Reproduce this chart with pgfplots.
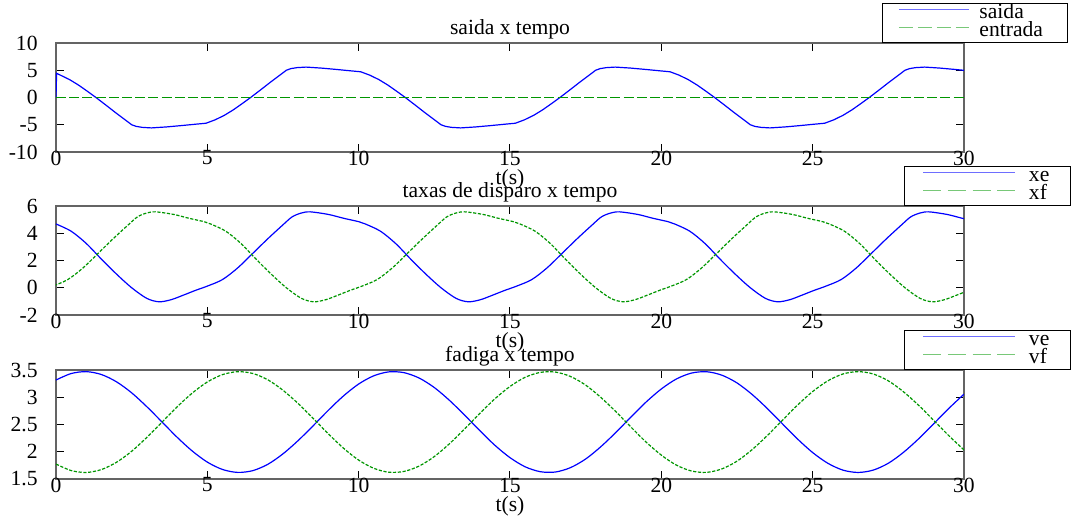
\documentclass[border=0pt]{standalone}
\usepackage{pgfplots}
\pgfplotsset{compat=1.18}
\usepackage{fontspec}
\setmainfont{Liberation Serif}

\definecolor{lineblue}{RGB}{0,0,255}
\definecolor{linegreen}{RGB}{0,150,0}
\definecolor{legblue}{RGB}{110,110,255}
\definecolor{leggreen}{RGB}{120,200,120}
\definecolor{framegray}{RGB}{100,100,100}

\pgfplotsset{
  panel/.style={
    scale only axis, width=454pt, height=54.5pt,
    xmin=0, xmax=30, xtick={0,5,...,30},
    axis line style={draw=framegray, line width=0.75pt},
    tick style={black, line width=0.5pt},
    major tick length=4pt, tick align=inside, tick pos=both,
    xticklabel pos=bottom, yticklabel pos=left,
    /pgf/number format/assume math mode=true,
    yticklabel style={anchor=east, inner sep=0pt, xshift=-9pt},
    xticklabel style={anchor=north, inner sep=0pt, yshift=0.8pt},
    title style={at={(axis description cs:0.5,1)}, anchor=base, inner sep=0pt, yshift=-1.6pt},
    xlabel style={at={(axis description cs:0.5,0)}, anchor=north, inner sep=0pt, yshift=-8.6pt},
    xlabel={t(s)},
    legend cell align=left,
    every axis plot/.append style={line width=0.6pt},
  },
  solidline/.style={draw=lineblue, legend image post style={draw=legblue}},
  shortdash/.style={draw=linegreen, dash pattern=on 1.6pt off 0.8pt,
    legend image post style={draw=leggreen, dash pattern=on 9pt off 3.3pt}},
}

\begin{document}
\fontsize{10.8}{12.5}\selectfont
\begin{tikzpicture}
\path (0pt,0pt) (539pt,-259pt);

% ---------- firing rates vs time ----------
\begin{axis}[panel, at={(28pt,-157.5pt)}, anchor=south west,
  ymin=-2, ymax=6, ytick={-2,0,2,4,6},
  title={taxas de disparo x tempo},
  legend style={at={(axis description cs:1.1184,1)}, anchor=south east,
    draw=black, line width=0.5pt, inner xsep=0pt, inner ysep=0.75pt,
    row sep=0pt, column sep=6.5pt,
    nodes={inner sep=0pt, text height=6.6pt, text depth=2.4pt, text width=21pt, align=left}},
  legend image code/.code={\path (0pt,0pt) (55pt,0pt);
    \draw[#1, line width=0.6pt] (9pt,2.1pt) -- (55pt,2.1pt);},
]
\addplot[solidline, smooth] coordinates {
(0,4.68) (0.5,4.15) (1,3.25) (1.5,2.1) (2,1.0) (2.5,0.0) (3,-0.78) (3.4,-1.03) (3.8,-0.88) (4.2,-0.55) (4.6,-0.2) (5,0.12) (5.5,0.6) (6,1.45) (6.5,2.52) (7,3.6) (7.5,4.62) (7.8,5.2) (8.1,5.48) (8.4,5.57) (9,5.38) (9.5,5.1) (10,4.85)
(10.22,4.68) (10.72,4.15) (11.22,3.25) (11.72,2.1) (12.22,1.0) (12.72,0.0) (13.22,-0.78) (13.62,-1.03) (14.02,-0.88) (14.42,-0.55) (14.82,-0.2) (15.22,0.12) (15.72,0.6) (16.22,1.45) (16.72,2.52) (17.22,3.6) (17.72,4.62) (18.02,5.2) (18.32,5.48) (18.62,5.57) (19.22,5.38) (19.72,5.1) (20.22,4.85)
(20.44,4.68) (20.94,4.15) (21.44,3.25) (21.94,2.1) (22.44,1.0) (22.94,0.0) (23.44,-0.78) (23.84,-1.03) (24.24,-0.88) (24.64,-0.55) (25.04,-0.2) (25.44,0.12) (25.94,0.6) (26.44,1.45) (26.94,2.52) (27.44,3.6) (27.94,4.62) (28.24,5.2) (28.54,5.48) (28.84,5.57) (29.44,5.38) (29.94,5.1) (30.44,4.85)
};
\addlegendentry{xe}
\addplot[shortdash, smooth] coordinates {
(-0.51,-0.2) (-0.11,0.12) (0.39,0.6) (0.89,1.45) (1.39,2.52) (1.89,3.6) (2.39,4.62) (2.69,5.2) (2.99,5.48) (3.29,5.57) (3.89,5.38) (4.39,5.1) (4.89,4.85)
(5.11,4.68) (5.61,4.15) (6.11,3.25) (6.61,2.1) (7.11,1.0) (7.61,0.0) (8.11,-0.78) (8.51,-1.03) (8.91,-0.88) (9.31,-0.55) (9.71,-0.2) (10.11,0.12) (10.61,0.6) (11.11,1.45) (11.61,2.52) (12.11,3.6) (12.61,4.62) (12.91,5.2) (13.21,5.48) (13.51,5.57) (14.11,5.38) (14.61,5.1) (15.11,4.85)
(15.33,4.68) (15.83,4.15) (16.33,3.25) (16.83,2.1) (17.33,1.0) (17.83,0.0) (18.33,-0.78) (18.73,-1.03) (19.13,-0.88) (19.53,-0.55) (19.93,-0.2) (20.33,0.12) (20.83,0.6) (21.33,1.45) (21.83,2.52) (22.33,3.6) (22.83,4.62) (23.13,5.2) (23.43,5.48) (23.73,5.57) (24.33,5.38) (24.83,5.1) (25.33,4.85)
(25.55,4.68) (26.05,4.15) (26.55,3.25) (27.05,2.1) (27.55,1.0) (28.05,0.0) (28.55,-0.78) (28.95,-1.03) (29.35,-0.88) (29.75,-0.55) (30.15,-0.2)
};
\addlegendentry{xf}
\end{axis}

% ---------- fatigue vs time ----------
\begin{axis}[panel, at={(28pt,-239.5pt)}, anchor=south west,
  ymin=1.5, ymax=3.5, ytick={1.5,2,2.5,3,3.5},
  title={fadiga x tempo},
  legend style={at={(axis description cs:1.1184,1)}, anchor=south east,
    draw=black, line width=0.5pt, inner xsep=0pt, inner ysep=0.75pt,
    row sep=0pt, column sep=6.5pt,
    nodes={inner sep=0pt, text height=6.6pt, text depth=2.4pt, text width=21pt, align=left}},
  legend image code/.code={\path (0pt,0pt) (55pt,0pt);
    \draw[#1, line width=0.6pt] (9pt,2.1pt) -- (55pt,2.1pt);},
]
\addplot[solidline, smooth] table {
t ve
0 3.316
0.5 3.435
1 3.470
1.5 3.417
2 3.283
2.5 3.081
3 2.827
3.5 2.548
4 2.267
4.5 2.014
5 1.810
5.5 1.675
6 1.621
6.5 1.653
7 1.770
7.5 1.962
8 2.205
8.5 2.479
9 2.762
9.5 3.025
10 3.243
10.5 3.394
11 3.466
11.5 3.451
12 3.352
12.5 3.178
13 2.943
13.5 2.672
14 2.389
14.5 2.119
15 1.892
15.5 1.724
16 1.634
16.5 1.628
17 1.709
17.5 1.867
18 2.092
18.5 2.356
19 2.639
19.5 2.914
20 3.152
20.5 3.336
21 3.444
21.5 3.468
22 3.405
22.5 3.263
23 3.051
23.5 2.794
24 2.513
24.5 2.234
25 1.985
25.5 1.789
26 1.663
26.5 1.620
27 1.663
27.5 1.789
28 1.989
28.5 2.237
29 2.515
29.5 2.796
30 3.057
};
\addlegendentry{ve}
\addplot[shortdash, smooth] table {
t vf
0 1.774
0.5 1.655
1 1.620
1.5 1.673
2 1.807
2.5 2.009
3 2.263
3.5 2.542
4 2.823
4.5 3.076
5 3.280
5.5 3.415
6 3.469
6.5 3.437
7 3.320
7.5 3.128
8 2.885
8.5 2.611
9 2.328
9.5 2.065
10 1.847
10.5 1.696
11 1.624
11.5 1.639
12 1.738
12.5 1.912
13 2.147
13.5 2.418
14 2.701
14.5 2.971
15 3.198
15.5 3.366
16 3.456
16.5 3.462
17 3.381
17.5 3.223
18 2.998
18.5 2.734
19 2.451
19.5 2.176
20 1.938
20.5 1.754
21 1.646
21.5 1.622
22 1.685
22.5 1.827
23 2.039
23.5 2.296
24 2.577
24.5 2.856
25 3.105
25.5 3.301
26 3.427
26.5 3.470
27 3.427
27.5 3.301
28 3.101
28.5 2.853
29 2.575
29.5 2.294
30 2.033
};
\addlegendentry{vf}
\end{axis}

% ---------- output vs time ----------
\begin{axis}[panel, at={(28pt,-76pt)}, anchor=south west,
  ymin=-10, ymax=10, ytick={-10,-5,0,5,10},
  title={saida x tempo},
  legend style={at={(axis description cs:1.1145,1)}, anchor=south east,
    draw=black, line width=0.5pt, inner xsep=0pt, inner ysep=0.75pt,
    row sep=0pt, column sep=5pt,
    nodes={inner sep=0pt, text height=6.6pt, text depth=2.4pt, text width=44pt, align=left}},
  legend image code/.code={\path (0pt,0pt) (43pt,0pt);
    \draw[#1, line width=0.6pt] (8pt,2.1pt) -- (43pt,2.1pt);},
]
\addplot[solidline] coordinates {
(0,0) (0.02,4.44) (0.15,4.09) (0.45,3.28) (0.75,2.26) (1.05,1.09) (1.32,0) (1.65,-1.4) (1.95,-2.7) (2.25,-3.95) (2.5,-5.0) (2.65,-5.3) (2.85,-5.48) (3.15,-5.58) (3.65,-5.4) (4.15,-5.15) (4.65,-4.88)
(4.96,-4.72) (5.26,-4.09) (5.56,-3.28) (5.86,-2.26) (6.16,-1.09) (6.43,0) (6.76,1.4) (7.06,2.7) (7.36,3.95) (7.61,5.0) (7.76,5.3) (7.96,5.48) (8.26,5.58) (8.76,5.4) (9.26,5.15) (9.76,4.88)
(10.07,4.72) (10.37,4.09) (10.67,3.28) (10.97,2.26) (11.27,1.09) (11.54,0) (11.87,-1.4) (12.17,-2.7) (12.47,-3.95) (12.72,-5.0) (12.87,-5.3) (13.07,-5.48) (13.37,-5.58) (13.87,-5.4) (14.37,-5.15) (14.87,-4.88)
(15.18,-4.72) (15.48,-4.09) (15.78,-3.28) (16.08,-2.26) (16.38,-1.09) (16.65,0) (16.98,1.4) (17.28,2.7) (17.58,3.95) (17.83,5.0) (17.98,5.3) (18.18,5.48) (18.48,5.58) (18.98,5.4) (19.48,5.15) (19.98,4.88)
(20.29,4.72) (20.59,4.09) (20.89,3.28) (21.19,2.26) (21.49,1.09) (21.76,0) (22.09,-1.4) (22.39,-2.7) (22.69,-3.95) (22.94,-5.0) (23.09,-5.3) (23.29,-5.48) (23.59,-5.58) (24.09,-5.4) (24.59,-5.15) (25.09,-4.88)
(25.40,-4.72) (25.70,-4.09) (26.00,-3.28) (26.30,-2.26) (26.60,-1.09) (26.87,0) (27.20,1.4) (27.50,2.7) (27.80,3.95) (28.05,5.0) (28.20,5.3) (28.40,5.48) (28.70,5.58) (29.20,5.4) (29.70,5.15) (30.20,4.88)
};
\addlegendentry{saida}
\addplot[draw=linegreen, line width=0.9pt, dash pattern=on 5pt off 1.6pt,
  legend image post style={draw=leggreen, line width=0.6pt, dash pattern=on 7pt off 2.5pt}] coordinates {(0,0) (15,0) (30,0)};
\addlegendentry{entrada}
\end{axis}
\end{tikzpicture}
\end{document}
